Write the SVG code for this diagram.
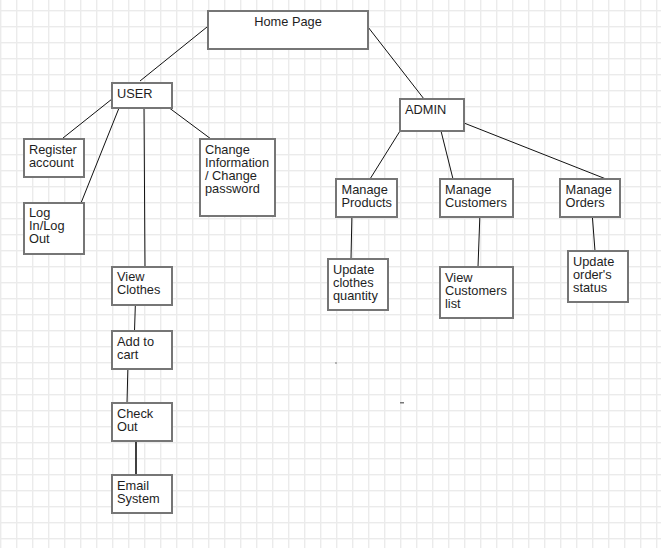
<svg xmlns="http://www.w3.org/2000/svg" width="661" height="548" viewBox="0 0 661 548">
<defs>
<pattern id="grid" patternUnits="userSpaceOnUse" x="0" y="10" width="16" height="16">
<rect x="0" y="0" width="16" height="16" fill="#ffffff"/>
<rect x="0" y="0" width="1.4" height="16" fill="#ebebeb"/>
<rect x="0" y="0" width="16" height="1.4" fill="#ebebeb"/>
</pattern>
</defs>
<style>
.box{fill:#ffffff;stroke:#767676;stroke-width:2}
.t{font-family:"Liberation Sans",Arial,sans-serif;font-size:12.8px;fill:#1e1e1e}
.c{stroke:#111;stroke-width:1;fill:none}
</style>
<rect x="0" y="0" width="661" height="548" fill="url(#grid)"/>
<rect x="335" y="362.5" width="2" height="1" fill="#777"/>
<rect x="400" y="402" width="4" height="1.5" fill="#777"/>
<g id="connectors">
<line class="c" x1="207" y1="27" x2="140" y2="81"/>
<line class="c" x1="368" y1="27" x2="424" y2="99"/>
<line class="c" x1="112" y1="99" x2="63" y2="138"/>
<line class="c" x1="119" y1="108" x2="81" y2="203"/>
<line class="c" x1="144" y1="108" x2="145" y2="267"/>
<line class="c" x1="168" y1="107" x2="211" y2="139"/>
<line class="c" x1="135.5" y1="300" x2="134.5" y2="331"/>
<line class="c" x1="128" y1="363" x2="127" y2="403"/>
<line class="c" x1="136" y1="435" x2="136" y2="475" style="stroke-width:1.6"/>
<line class="c" x1="400" y1="131" x2="370" y2="179"/>
<line class="c" x1="441" y1="131" x2="453" y2="179"/>
<line class="c" x1="464" y1="123" x2="606" y2="179"/>
<line class="c" x1="352" y1="212" x2="351" y2="259"/>
<line class="c" x1="480" y1="212" x2="478" y2="267"/>
<line class="c" x1="592" y1="212" x2="595" y2="251"/>
</g>
<g id="home"><rect class="box" x="208" y="11" width="160" height="38"/><text class="t" x="288" y="26" text-anchor="middle">Home Page</text></g>
<g id="user"><rect class="box" x="112" y="83" width="60" height="25"/><text class="t" x="117" y="98">USER</text></g>
<g id="admin"><rect class="box" x="400" y="99" width="64" height="32"/><text class="t" x="405" y="113.5">ADMIN</text></g>
<g id="register"><rect class="box" x="24" y="139" width="60" height="38"/><text class="t" x="29" y="154">Register</text><text class="t" x="29" y="167">account</text></g>
<g id="login"><rect class="box" x="24" y="203" width="60" height="51"/><text class="t" x="29" y="217">Log</text><text class="t" x="29" y="230">In/Log</text><text class="t" x="29" y="243">Out</text></g>
<g id="change"><rect class="box" x="200" y="139" width="75" height="77"/><text class="t" x="205" y="154">Change</text><text class="t" x="205" y="167">Information</text><text class="t" x="205" y="180">/ Change</text><text class="t" x="205" y="193">password</text></g>
<g id="viewclothes"><rect class="box" x="112" y="267" width="60" height="38"/><text class="t" x="117" y="281">View</text><text class="t" x="117" y="294">Clothes</text></g>
<g id="addcart"><rect class="box" x="112" y="331" width="60" height="38"/><text class="t" x="117" y="345.5">Add to</text><text class="t" x="117" y="358.5">cart</text></g>
<g id="checkout"><rect class="box" x="112" y="403" width="60" height="38"/><text class="t" x="117" y="417.5">Check</text><text class="t" x="117" y="430.5">Out</text></g>
<g id="email"><rect class="box" x="112" y="475" width="60" height="38"/><text class="t" x="117" y="489.5">Email</text><text class="t" x="117" y="502.5">System</text></g>
<g id="manageproducts"><rect class="box" x="336" y="179" width="61" height="38"/><text class="t" x="341.5" y="194">Manage</text><text class="t" x="341.5" y="207">Products</text></g>
<g id="managecustomers"><rect class="box" x="440" y="179" width="73" height="38"/><text class="t" x="445" y="194">Manage</text><text class="t" x="445" y="207">Customers</text></g>
<g id="manageorders"><rect class="box" x="560" y="179" width="60" height="38"/><text class="t" x="565.5" y="194">Manage</text><text class="t" x="565.5" y="207">Orders</text></g>
<g id="updateclothes"><rect class="box" x="328" y="259" width="60" height="51"/><text class="t" x="333" y="273.5">Update</text><text class="t" x="333" y="286.5">clothes</text><text class="t" x="333" y="299.5">quantity</text></g>
<g id="viewcustomers"><rect class="box" x="440" y="267" width="73" height="51"/><text class="t" x="445" y="282">View</text><text class="t" x="445" y="295">Customers</text><text class="t" x="445" y="308">list</text></g>
<g id="updateorder"><rect class="box" x="568" y="251" width="60" height="51"/><text class="t" x="573" y="265.5">Update</text><text class="t" x="573" y="278.5">order's</text><text class="t" x="573" y="291.5">status</text></g>
</svg>
